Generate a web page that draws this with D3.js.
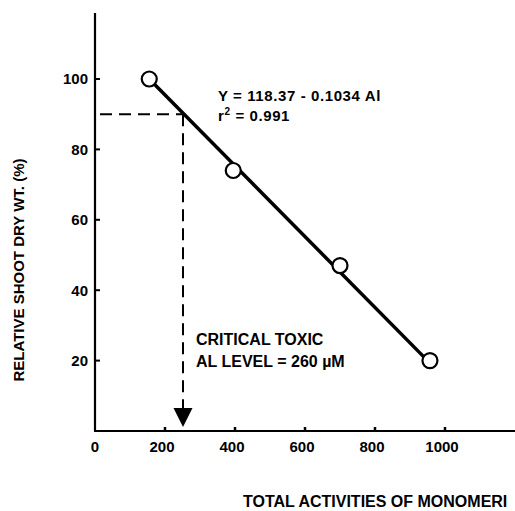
<!DOCTYPE html>
<html>
<head>
<meta charset="utf-8">
<script src="https://cdn.jsdelivr.net/npm/d3@7"></script>
<style>
  body { margin: 0; background: #fff; }
  svg { display: block; font-family: "Liberation Sans", Arial, sans-serif; }
</style>
</head>
<body>
<div id="chart"></div>
<script>
// measured points: total Al activity (uM) vs relative shoot dry wt (%)
const alActivity = [155, 395, 700, 957];
const relShoot = [100, 74, 47, 20];
// regression line ends
const fitX = [155, 955];
const fitY = [100, 19.5];
const xTicks = [0, 200, 400, 600, 800, 1000];
const yTicks = [20, 40, 60, 80, 100];
const criticalAl = 260;
const criticalPct = 90;

const width = 515, height = 511;

const svg = d3.select("#chart").append("svg")
  .attr("width", width)
  .attr("height", height);

const x = d3.scaleLinear().domain([0, 1200]).range([95, 515]);
const y = d3.scaleLinear().domain([0, 120]).range([431, 8.6]);

// axes lines
svg.append("line")
  .attr("x1", x(0)).attr("x2", x(0))
  .attr("y1", 13).attr("y2", y(0))
  .attr("stroke", "#000").attr("stroke-width", 2.2);
svg.append("line")
  .attr("x1", x(0) - 1).attr("x2", width)
  .attr("y1", y(0)).attr("y2", y(0))
  .attr("stroke", "#000").attr("stroke-width", 2.2);

// y ticks (inside) and labels
svg.selectAll(".ytick").data(yTicks).join("line")
  .attr("x1", x(0)).attr("x2", x(0) + 5)
  .attr("y1", d => y(d)).attr("y2", d => y(d))
  .attr("stroke", "#000").attr("stroke-width", 2);
svg.selectAll(".ylab").data(yTicks).join("text")
  .attr("x", x(0) - 7)
  .attr("y", d => y(d))
  .attr("dy", "0.36em")
  .attr("text-anchor", "end")
  .attr("font-size", 15)
  .attr("font-weight", "bold")
  .text(d => d);

// x ticks (small bumps) and labels
svg.selectAll(".xtick").data(xTicks.filter(d => d > 0)).join("line")
  .attr("x1", d => x(d)).attr("x2", d => x(d))
  .attr("y1", y(0)).attr("y2", y(0) - 4)
  .attr("stroke", "#000").attr("stroke-width", 2.5);
svg.selectAll(".xlab").data(xTicks).join("text")
  .attr("x", d => x(d) - (d > 0 ? 3 : 0))
  .attr("y", 452)
  .attr("text-anchor", "middle")
  .attr("font-size", 15)
  .attr("font-weight", "bold")
  .text(d => d);

// axis titles
svg.append("text")
  .attr("transform", `translate(24, 270) rotate(-90)`)
  .attr("text-anchor", "middle")
  .attr("font-size", 15)
  .attr("font-weight", "bold")
  .text("RELATIVE SHOOT DRY WT. (%)");
// the title runs off the right edge in the original scan
svg.append("text")
  .attr("x", 243)
  .attr("y", 507)
  .attr("font-size", 16)
  .attr("font-weight", "bold")
  .text("TOTAL ACTIVITIES OF MONOMERI");

// critical level dashed guides
svg.append("line")
  .attr("x1", x(0) + 5).attr("x2", x(criticalAl) - 3)
  .attr("y1", y(criticalPct)).attr("y2", y(criticalPct))
  .attr("stroke", "#000").attr("stroke-width", 2)
  .attr("stroke-dasharray", "12,7");
svg.append("line")
  .attr("x1", x(criticalAl) - 3).attr("x2", x(criticalAl) - 3)
  .attr("y1", y(criticalPct)).attr("y2", y(0) - 22)
  .attr("stroke", "#000").attr("stroke-width", 2)
  .attr("stroke-dasharray", "12,7");
svg.append("path")
  .attr("d", `M${x(criticalAl) - 12.5},${y(0) - 23} L${x(criticalAl) + 6.5},${y(0) - 23} L${x(criticalAl) - 3},${y(0) - 4} Z`)
  .attr("fill", "#000");

// regression line
svg.append("line")
  .attr("x1", x(fitX[0])).attr("y1", y(fitY[0]))
  .attr("x2", x(fitX[1])).attr("y2", y(fitY[1]))
  .attr("stroke", "#000").attr("stroke-width", 3.5);

// data points
svg.selectAll(".pt").data(alActivity).join("circle")
  .attr("cx", d => x(d))
  .attr("cy", (d, i) => y(relShoot[i]))
  .attr("r", 7.5)
  .attr("fill", "#fff")
  .attr("stroke", "#000")
  .attr("stroke-width", 2.2);

// annotations
svg.append("text")
  .attr("x", 218).attr("y", 101)
  .attr("font-size", 15)
  .attr("font-weight", "bold")
  .attr("letter-spacing", 0.6)
  .text("Y = 118.37 - 0.1034 Al");
const r2 = svg.append("text")
  .attr("x", 218).attr("y", 121)
  .attr("font-size", 15)
  .attr("font-weight", "bold")
  .attr("letter-spacing", 0.6);
r2.append("tspan").text("r");
r2.append("tspan").attr("dy", -6).attr("font-size", 10).text("2");
r2.append("tspan").attr("dy", 6).text(" = 0.991");

svg.append("text")
  .attr("x", 196).attr("y", 345)
  .attr("font-size", 16)
  .attr("font-weight", "bold")
  .text("CRITICAL TOXIC");
svg.append("text")
  .attr("x", 196).attr("y", 367)
  .attr("font-size", 16)
  .attr("font-weight", "bold")
  .text("AL LEVEL = 260 \u00b5M");
</script>
</body>
</html>
